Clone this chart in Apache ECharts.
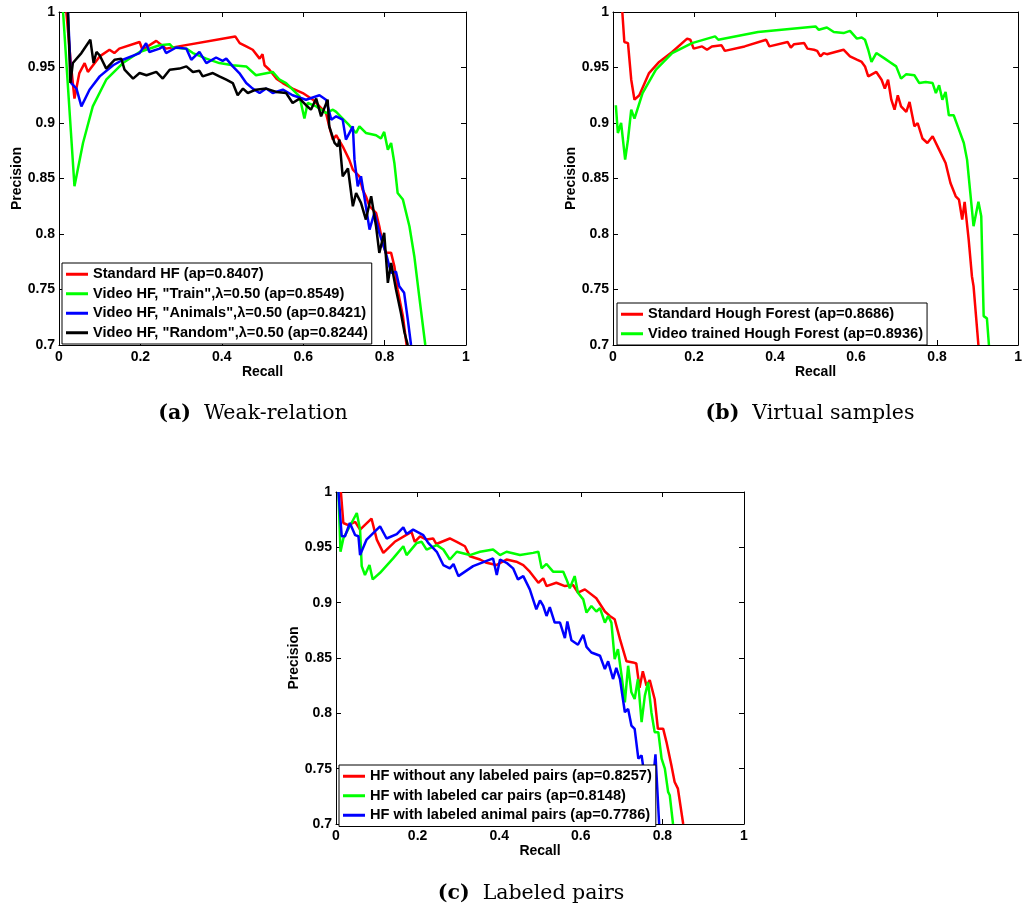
<!DOCTYPE html>
<html>
<head>
<meta charset="utf-8">
<script src="https://cdn.jsdelivr.net/npm/echarts@6/dist/echarts.min.js"></script>
<style>
  html, body { margin: 0; padding: 0; background: #fff; }
  #chart { width: 1025px; height: 909px; }
</style>
</head>
<body>
<div id="chart"></div>
<script>
// tick values shared by every panel
const recallTicks = [0, 0.2, 0.4, 0.6, 0.8, 1];
const precisionTicks = [0.7, 0.75, 0.8, 0.85, 0.9, 0.95, 1];

// (a) Weak-relation  [recall, precision]
const aStandard = [[0.018,1.0],[0.03,0.95],[0.038,0.922],[0.05,0.945],[0.063,0.954],[0.071,0.946],[0.1,0.96],[0.124,0.966],[0.136,0.963],[0.148,0.967],[0.198,0.973],[0.205,0.966],[0.239,0.974],[0.263,0.967],[0.433,0.978],[0.444,0.972],[0.46,0.969],[0.476,0.966],[0.493,0.958],[0.5,0.962],[0.505,0.952],[0.517,0.948],[0.534,0.94],[0.55,0.936],[0.574,0.931],[0.599,0.927],[0.624,0.921],[0.64,0.915],[0.656,0.909],[0.664,0.897],[0.673,0.885],[0.681,0.889],[0.697,0.879],[0.713,0.867],[0.722,0.858],[0.738,0.852],[0.746,0.84],[0.754,0.834],[0.763,0.825],[0.779,0.819],[0.787,0.807],[0.795,0.792],[0.803,0.783],[0.816,0.783],[0.824,0.771],[0.832,0.75],[0.845,0.726],[0.854,0.70]];
const aTrain = [[0.01,1.0],[0.038,0.843],[0.059,0.882],[0.083,0.915],[0.116,0.939],[0.157,0.954],[0.198,0.964],[0.247,0.97],[0.272,0.971],[0.28,0.968],[0.313,0.967],[0.329,0.963],[0.362,0.958],[0.394,0.954],[0.427,0.952],[0.46,0.951],[0.484,0.943],[0.525,0.946],[0.542,0.939],[0.558,0.936],[0.591,0.924],[0.603,0.904],[0.611,0.918],[0.632,0.915],[0.656,0.909],[0.673,0.912],[0.681,0.91],[0.697,0.904],[0.713,0.898],[0.73,0.891],[0.738,0.897],[0.754,0.891],[0.779,0.889],[0.791,0.886],[0.799,0.892],[0.808,0.876],[0.816,0.882],[0.824,0.864],[0.832,0.837],[0.845,0.831],[0.861,0.807],[0.873,0.78],[0.885,0.744],[0.9,0.70]];
const aAnimals = [[0.022,1.0],[0.03,0.936],[0.043,0.931],[0.055,0.915],[0.075,0.93],[0.1,0.942],[0.133,0.952],[0.157,0.957],[0.198,0.963],[0.214,0.972],[0.222,0.964],[0.247,0.967],[0.255,0.969],[0.263,0.963],[0.288,0.968],[0.313,0.967],[0.325,0.957],[0.345,0.964],[0.362,0.954],[0.386,0.959],[0.402,0.956],[0.411,0.958],[0.427,0.951],[0.443,0.945],[0.46,0.936],[0.476,0.931],[0.493,0.927],[0.509,0.931],[0.525,0.927],[0.55,0.93],[0.574,0.925],[0.607,0.921],[0.64,0.925],[0.656,0.921],[0.669,0.903],[0.681,0.906],[0.697,0.903],[0.705,0.885],[0.722,0.897],[0.726,0.867],[0.734,0.843],[0.742,0.852],[0.754,0.825],[0.763,0.804],[0.775,0.819],[0.787,0.801],[0.803,0.783],[0.816,0.765],[0.828,0.766],[0.836,0.753],[0.848,0.747],[0.857,0.723],[0.865,0.70]];
const aRandom = [[0.022,1.0],[0.028,0.936],[0.034,0.954],[0.055,0.963],[0.077,0.975],[0.085,0.954],[0.092,0.964],[0.1,0.961],[0.116,0.949],[0.137,0.957],[0.153,0.958],[0.161,0.948],[0.182,0.94],[0.198,0.945],[0.215,0.943],[0.239,0.946],[0.255,0.94],[0.272,0.948],[0.296,0.949],[0.313,0.951],[0.329,0.946],[0.345,0.947],[0.353,0.942],[0.378,0.945],[0.394,0.942],[0.411,0.939],[0.427,0.936],[0.439,0.925],[0.452,0.931],[0.464,0.927],[0.484,0.93],[0.509,0.931],[0.534,0.928],[0.558,0.927],[0.574,0.918],[0.591,0.922],[0.607,0.916],[0.619,0.912],[0.632,0.922],[0.644,0.906],[0.66,0.921],[0.664,0.897],[0.677,0.882],[0.685,0.879],[0.689,0.885],[0.697,0.852],[0.71,0.859],[0.722,0.825],[0.73,0.837],[0.742,0.828],[0.754,0.813],[0.767,0.834],[0.779,0.807],[0.787,0.783],[0.799,0.801],[0.808,0.756],[0.816,0.774],[0.828,0.75],[0.84,0.729],[0.849,0.711],[0.857,0.70]];

// (b) Virtual samples
const bStandard = [[0.023,1.0],[0.028,0.973],[0.037,0.972],[0.045,0.939],[0.053,0.921],[0.065,0.925],[0.089,0.945],[0.114,0.955],[0.146,0.964],[0.183,0.976],[0.191,0.975],[0.199,0.967],[0.22,0.969],[0.232,0.966],[0.244,0.969],[0.268,0.97],[0.276,0.965],[0.325,0.969],[0.378,0.975],[0.386,0.969],[0.431,0.973],[0.439,0.968],[0.447,0.971],[0.472,0.972],[0.48,0.967],[0.496,0.966],[0.504,0.965],[0.512,0.96],[0.52,0.963],[0.528,0.962],[0.569,0.966],[0.585,0.96],[0.602,0.957],[0.614,0.955],[0.622,0.951],[0.63,0.942],[0.65,0.946],[0.663,0.939],[0.671,0.931],[0.679,0.939],[0.687,0.921],[0.695,0.912],[0.703,0.925],[0.711,0.915],[0.724,0.91],[0.732,0.919],[0.744,0.897],[0.752,0.9],[0.764,0.886],[0.776,0.882],[0.789,0.888],[0.805,0.876],[0.821,0.864],[0.833,0.846],[0.846,0.834],[0.854,0.831],[0.862,0.813],[0.868,0.829],[0.878,0.795],[0.886,0.762],[0.89,0.753],[0.902,0.70]];
const bVideo = [[0.007,0.916],[0.012,0.891],[0.02,0.9],[0.03,0.867],[0.037,0.885],[0.045,0.912],[0.053,0.904],[0.073,0.927],[0.106,0.948],[0.146,0.963],[0.195,0.972],[0.252,0.978],[0.26,0.975],[0.358,0.982],[0.5,0.987],[0.508,0.984],[0.528,0.986],[0.545,0.982],[0.569,0.981],[0.585,0.983],[0.602,0.976],[0.614,0.977],[0.622,0.975],[0.63,0.966],[0.638,0.955],[0.65,0.963],[0.671,0.958],[0.683,0.955],[0.699,0.951],[0.711,0.94],[0.724,0.944],[0.744,0.943],[0.756,0.936],[0.772,0.937],[0.789,0.936],[0.797,0.927],[0.805,0.934],[0.813,0.921],[0.821,0.928],[0.829,0.907],[0.841,0.907],[0.854,0.894],[0.866,0.882],[0.874,0.867],[0.882,0.837],[0.89,0.807],[0.902,0.829],[0.909,0.816],[0.915,0.726],[0.923,0.724],[0.928,0.70]];

// (c) Labeled pairs
const cNone = [[0.012,1.0],[0.018,0.972],[0.03,0.97],[0.047,0.973],[0.059,0.966],[0.087,0.976],[0.1,0.957],[0.116,0.945],[0.144,0.955],[0.185,0.964],[0.193,0.955],[0.206,0.96],[0.222,0.957],[0.238,0.958],[0.246,0.953],[0.279,0.958],[0.296,0.955],[0.316,0.951],[0.328,0.942],[0.353,0.939],[0.369,0.936],[0.393,0.934],[0.418,0.939],[0.442,0.937],[0.459,0.934],[0.475,0.928],[0.496,0.918],[0.508,0.922],[0.516,0.915],[0.54,0.918],[0.561,0.915],[0.581,0.916],[0.593,0.909],[0.61,0.912],[0.638,0.904],[0.659,0.892],[0.671,0.888],[0.683,0.885],[0.696,0.867],[0.712,0.847],[0.728,0.846],[0.736,0.845],[0.744,0.823],[0.752,0.838],[0.761,0.825],[0.769,0.83],[0.781,0.813],[0.789,0.786],[0.802,0.786],[0.81,0.774],[0.822,0.753],[0.83,0.738],[0.838,0.732],[0.851,0.70]];
const cCar = [[0.006,1.0],[0.011,0.946],[0.018,0.958],[0.038,0.972],[0.051,0.981],[0.059,0.966],[0.063,0.933],[0.071,0.925],[0.082,0.934],[0.09,0.921],[0.108,0.927],[0.14,0.94],[0.165,0.951],[0.173,0.943],[0.198,0.954],[0.21,0.955],[0.222,0.948],[0.247,0.952],[0.263,0.948],[0.279,0.939],[0.296,0.946],[0.328,0.943],[0.353,0.946],[0.385,0.948],[0.402,0.943],[0.418,0.946],[0.451,0.943],[0.483,0.945],[0.496,0.946],[0.504,0.931],[0.516,0.935],[0.532,0.928],[0.557,0.928],[0.565,0.921],[0.573,0.913],[0.585,0.924],[0.593,0.909],[0.606,0.903],[0.614,0.891],[0.626,0.897],[0.638,0.892],[0.647,0.895],[0.659,0.882],[0.667,0.888],[0.675,0.882],[0.683,0.849],[0.691,0.858],[0.7,0.834],[0.708,0.81],[0.716,0.843],[0.724,0.819],[0.732,0.813],[0.74,0.831],[0.749,0.792],[0.757,0.816],[0.765,0.828],[0.773,0.801],[0.781,0.783],[0.79,0.783],[0.798,0.759],[0.806,0.75],[0.814,0.729],[0.818,0.726],[0.826,0.70]];
const cAnimal = [[0.006,1.0],[0.014,0.96],[0.022,0.96],[0.034,0.972],[0.047,0.961],[0.055,0.96],[0.059,0.943],[0.075,0.957],[0.108,0.969],[0.124,0.958],[0.149,0.962],[0.165,0.968],[0.173,0.962],[0.189,0.966],[0.214,0.961],[0.226,0.954],[0.247,0.946],[0.263,0.934],[0.279,0.931],[0.288,0.935],[0.3,0.924],[0.336,0.933],[0.385,0.94],[0.394,0.925],[0.402,0.939],[0.418,0.936],[0.434,0.931],[0.446,0.921],[0.459,0.924],[0.475,0.912],[0.491,0.894],[0.5,0.902],[0.508,0.897],[0.516,0.888],[0.524,0.896],[0.536,0.882],[0.549,0.882],[0.561,0.868],[0.567,0.883],[0.577,0.866],[0.593,0.862],[0.606,0.871],[0.614,0.86],[0.626,0.855],[0.647,0.852],[0.659,0.84],[0.667,0.847],[0.679,0.831],[0.687,0.841],[0.696,0.831],[0.708,0.801],[0.716,0.804],[0.724,0.789],[0.732,0.786],[0.741,0.759],[0.749,0.762],[0.757,0.741],[0.765,0.75],[0.773,0.723],[0.783,0.763],[0.792,0.70]];

const nameA = ['Standard HF (ap=0.8407)', 'Video HF, "Train",λ=0.50 (ap=0.8549)', 'Video HF, "Animals",λ=0.50 (ap=0.8421)', 'Video HF, "Random",λ=0.50 (ap=0.8244)'];
const nameB = ['Standard Hough Forest (ap=0.8686)', 'Video trained Hough Forest (ap=0.8936)'];
const nameC = ['HF without any labeled pairs (ap=0.8257)', 'HF with labeled car pairs (ap=0.8148)', 'HF with labeled animal pairs (ap=0.7786)'];

const font = 'Liberation Sans, Arial, Helvetica, sans-serif';
const tickFont = { fontFamily: font, fontWeight: 'bold', fontSize: 14, color: '#000' };

function xAxisPair(gi) {
  const base = {
    gridIndex: gi, type: 'value',
    min: recallTicks[0], max: recallTicks[recallTicks.length - 1],
    interval: recallTicks[1] - recallTicks[0],
    axisLine: { show: true, onZero: false, lineStyle: { color: '#000', width: 1 } },
    axisTick: { show: true, inside: true, length: 5, lineStyle: { color: '#000' } },
    splitLine: { show: false }
  };
  return [
    Object.assign({}, base, {
      position: 'bottom',
      axisLabel: Object.assign({ margin: 5 }, tickFont),
      name: 'Recall', nameLocation: 'middle', nameGap: 20,
      nameTextStyle: tickFont
    }),
    Object.assign({}, base, { position: 'top', axisLabel: { show: false } })
  ];
}
function yAxisPair(gi) {
  const base = {
    gridIndex: gi, type: 'value',
    min: precisionTicks[0], max: precisionTicks[precisionTicks.length - 1],
    interval: 0.05,
    axisLine: { show: true, onZero: false, lineStyle: { color: '#000', width: 1 } },
    axisTick: { show: true, inside: true, length: 5, lineStyle: { color: '#000' } },
    splitLine: { show: false }
  };
  return [
    Object.assign({}, base, {
      position: 'left',
      axisLabel: Object.assign({ margin: 4 }, tickFont),
      name: 'Precision', nameLocation: 'middle', nameGap: 34,
      nameTextStyle: tickFont
    }),
    Object.assign({}, base, { position: 'right', axisLabel: { show: false } })
  ];
}

function line(name, data, color, gi) {
  return {
    name: name, type: 'line', data: data,
    xAxisIndex: gi * 2, yAxisIndex: gi * 2,
    showSymbol: false, symbol: 'none', animation: false,
    lineStyle: { color: color, width: 2.5 },
    itemStyle: { color: color }
  };
}

function legendBox(names, left, top) {
  return {
    data: names, left: left, top: top, orient: 'vertical',
    backgroundColor: '#fff', borderColor: '#000', borderWidth: 1,
    padding: [3, 4, 3, 4], itemGap: 3,
    icon: 'rect', itemWidth: 22, itemHeight: 3,
    selectedMode: false,
    textStyle: { fontFamily: font, fontWeight: 'bold', fontSize: 14.6, color: '#000', lineHeight: 16.5 }
  };
}

function caption(tag, text, x, y) {
  return {
    type: 'text', x: x, y: y,
    style: {
      text: '{b|' + tag + '}  ' + text,
      fill: '#000', font: '20.5px "DejaVu Serif", serif',
      align: 'center', verticalAlign: 'middle',
      rich: { b: { fontWeight: 'bold', fontSize: 20.5, fontFamily: 'DejaVu Serif' } }
    }
  };
}

const chart = echarts.init(document.getElementById('chart'));
chart.setOption({
  animation: false,
  backgroundColor: '#fff',
  grid: [
    { left: 59, top: 12, width: 407, height: 333 },
    { left: 613, top: 12, width: 410, height: 333 },
    { left: 336, top: 492, width: 408, height: 332 }
  ],
  xAxis: [].concat(xAxisPair(0), xAxisPair(1), xAxisPair(2)),
  yAxis: [].concat(yAxisPair(0), yAxisPair(1), yAxisPair(2)),
  legend: [
    legendBox(nameA, 62, 263),
    legendBox(nameB, 617, 303),
    legendBox(nameC, 339, 765)
  ],
  series: [
    line(nameA[0], aStandard, '#ff0000', 0),
    line(nameA[1], aTrain, '#00ff00', 0),
    line(nameA[2], aAnimals, '#0000ff', 0),
    line(nameA[3], aRandom, '#000000', 0),
    line(nameB[0], bStandard, '#ff0000', 1),
    line(nameB[1], bVideo, '#00ff00', 1),
    line(nameC[0], cNone, '#ff0000', 2),
    line(nameC[1], cCar, '#00ff00', 2),
    line(nameC[2], cAnimal, '#0000ff', 2)
  ],
  graphic: [
    caption('(a)', 'Weak-relation', 253, 414),
    caption('(b)', 'Virtual samples', 810, 414),
    caption('(c)', 'Labeled pairs', 531, 894)
  ]
});
</script>
</body>
</html>
